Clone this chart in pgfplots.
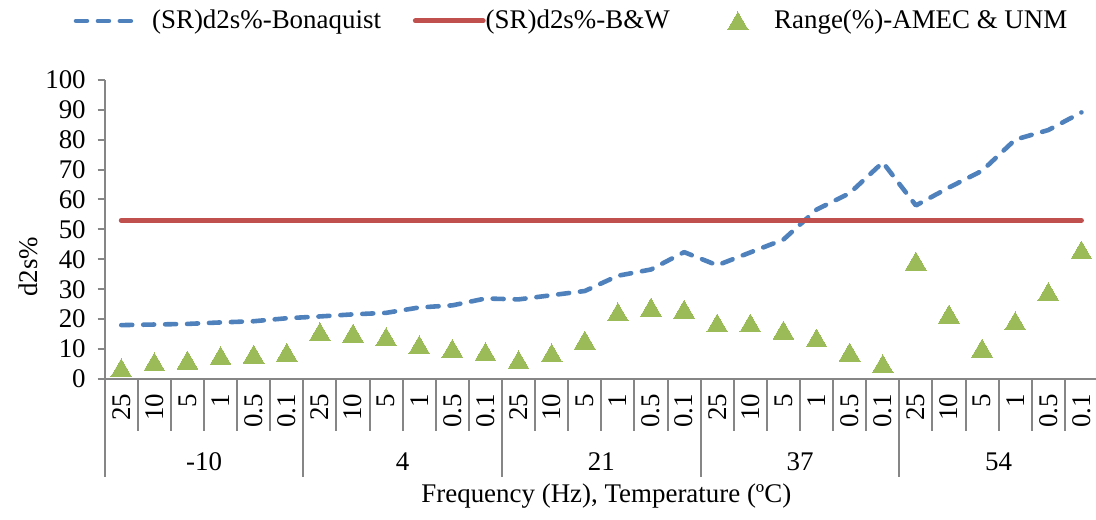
\documentclass[border=0pt]{standalone}
\usepackage{fontspec}
\setmainfont{Liberation Serif}
\usepackage{pgfplots}
\pgfplotsset{compat=1.18}

\definecolor{exblue}{HTML}{4F81BD}
\definecolor{exred}{HTML}{C0504D}
\definecolor{exgreen}{HTML}{9BBB59}
\definecolor{axgray}{HTML}{868686}

\newcommand{\lbl}{\fontsize{13.5}{16}\selectfont}

% legend samples (Excel-like spacing)
\pgfplotsset{
  leg dash/.style={legend image code/.code={
      \draw[##1] (0pt,0pt) -- (31pt,0pt);
      \path (35pt,0pt);}},
  leg line/.style={legend image code/.code={
      \draw[##1] (0pt,0pt) -- (32pt,0pt);
      \draw[##1, overlay] (32pt,0pt) -- (34pt,0pt);}},
  leg mark/.style={legend image code/.code={
      \draw[##1] plot coordinates {(18pt,0pt)};
      \path (0pt,0pt) (34pt,0pt);}},
}

\begin{document}
\begin{tikzpicture}
\begin{axis}[
    at={(0pt,0pt)}, anchor=south west,
    width=498pt, height=150pt, scale only axis,
    xmin=-0.5, xmax=29.5,
    ymin=0, ymax=100,
    ytick={0,10,...,100},
    xtick={0,...,29},
    xticklabels={25,10,5,1,0.5,0.1,25,10,5,1,0.5,0.1,25,10,5,1,0.5,0.1,
                 25,10,5,1,0.5,0.1,25,10,5,1,0.5,0.1},
    axis x line*=bottom, axis y line*=left,
    axis line style={axgray, line width=1pt, -},
    tick align=outside,
    major tick length=3.5pt,
    xtick style={draw=none},
    ytick style={axgray, line width=1pt},
    tick label style={font=\lbl},
    /pgf/number format/assume math mode=true,
    xticklabel style={yshift=-0.5pt, rotate=90, anchor=east, inner ysep=1pt},
    yticklabel style={xshift=-2.5pt},
    ylabel={d2s\%},
    every axis y label/.style={at={(axis description cs:0,0.375)},
        xshift=-38.5pt, rotate=90, anchor=center, font=\lbl},
    xlabel={Frequency (Hz), Temperature (ºC)},
    every axis x label/.style={at={(axis description cs:0.505,0)},
        yshift=-58.5pt, anchor=center, font=\lbl},
    legend columns=3,
    legend style={draw=none, fill=none, font=\lbl,
        at={(axis description cs:0.471,1)}, anchor=center, yshift=29.5pt,
        /tikz/every even column/.append style={column sep=14pt}},
    clip=false,
]
% (SR)d2s%-Bonaquist
\addplot[color=exblue, line width=2.3pt, dash pattern=on 5.5pt off 5.5pt,
    line cap=round, line join=round, no marks, leg dash]
coordinates {
 (0,18.0) (1,18.2) (2,18.4) (3,18.9) (4,19.3) (5,20.3)
 (6,20.9) (7,21.6) (8,22.1) (9,23.9) (10,24.6) (11,26.9)
 (12,26.6) (13,28.0) (14,29.4) (15,34.5) (16,36.6) (17,42.4)
 (18,38.0) (19,42.3) (20,46.6) (21,56.6) (22,62.1) (23,72.4)
 (24,58.0) (25,64.0) (26,69.6) (27,80.0) (28,83.2) (29,89.1)
};
\addlegendentry{(SR)d2s\%-Bonaquist}
% (SR)d2s%-B&W
\addplot[color=exred, line width=2.5pt, line cap=round, no marks, leg line]
coordinates {(0,53) (29,53)};
\addlegendentry{(SR)d2s\%-B\&W}
% Range(%)-AMEC & UNM
\addplot[only marks, mark=triangle*, mark size=6pt, color=exgreen,
    mark options={yshift=-1.5pt, line width=0pt}, leg mark]
coordinates {
 (0,3.7) (1,5.7) (2,6.3) (3,7.8) (4,8.3) (5,8.9)
 (6,15.8) (7,15.3) (8,14.1) (9,11.4) (10,10.2) (11,9.1)
 (12,6.4) (13,8.7) (14,13.0) (15,22.4) (16,24.0) (17,23.3)
 (18,18.7) (19,18.7) (20,16.3) (21,13.7) (22,9.0) (23,5.1)
 (24,39.4) (25,21.7) (26,10.3) (27,19.4) (28,29.2) (29,43.1)
};
\addlegendentry{Range(\%)-AMEC \& UNM}

% category separators below the axis
\pgfplotsinvokeforeach{0.5,1.5,...,28.5}{
  \draw[axgray, line width=1pt] (axis cs:#1,0) -- ++(0pt,-26pt);
}
\pgfplotsinvokeforeach{-0.5,5.5,11.5,17.5,23.5,29.5}{
  \draw[axgray, line width=1pt] (axis cs:#1,0) -- ++(0pt,-49pt);
}
% temperature groups
\node[font=\lbl] at (axis cs:2.5,0)  [yshift=-41.5pt] {-10};
\node[font=\lbl] at (axis cs:8.5,0)  [yshift=-41.5pt] {4};
\node[font=\lbl] at (axis cs:14.5,0) [yshift=-41.5pt] {21};
\node[font=\lbl] at (axis cs:20.5,0) [yshift=-41.5pt] {37};
\node[font=\lbl] at (axis cs:26.5,0) [yshift=-41.5pt] {54};
\end{axis}
\pgfresetboundingbox
\path (-52.5pt,-70.5pt) rectangle (497pt,190pt);
\end{tikzpicture}
\end{document}
